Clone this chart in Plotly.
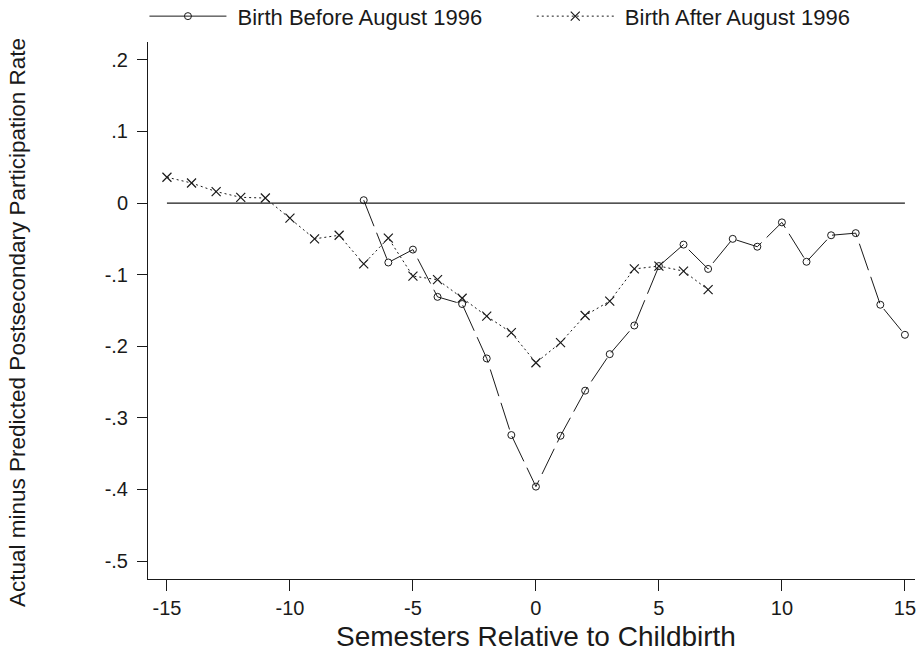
import plotly.graph_objects as go

# Semesters relative to childbirth and participation gaps for each birth cohort
before_x = list(range(-7, 16))
before_y = [0.004, -0.083, -0.065, -0.131, -0.141, -0.217, -0.324, -0.396,
            -0.325, -0.262, -0.211, -0.171, -0.088, -0.058, -0.092, -0.050,
            -0.061, -0.027, -0.082, -0.045, -0.042, -0.142, -0.184]

after_x = list(range(-15, 8))
after_y = [0.036, 0.028, 0.016, 0.008, 0.007, -0.021, -0.050, -0.045,
           -0.085, -0.049, -0.102, -0.107, -0.133, -0.158, -0.181, -0.223,
           -0.195, -0.157, -0.137, -0.092, -0.088, -0.095, -0.121]

ref_x = [-15, 15]
ref_y = [0, 0]

x_ticks = [-15, -10, -5, 0, 5, 10, 15]
x_labels = ["-15", "-10", "-5", "0", "5", "10", "15"]
y_ticks = [0.2, 0.1, 0, -0.1, -0.2, -0.3, -0.4, -0.5]
y_labels = [".2", ".1", "0", "-.1", "-.2", "-.3", "-.4", "-.5"]

INK = "#1a1a1a"
FONT = "Liberation Sans, Arial, sans-serif"
GAP = "\u00a0"

fig = go.Figure()

# zero reference line
fig.add_trace(go.Scatter(x=ref_x, y=ref_y, mode="lines",
                         line=dict(color=INK, width=1.2), showlegend=False,
                         hoverinfo="skip"))

fig.add_trace(go.Scatter(
    x=after_x, y=after_y, mode="lines+markers", showlegend=False,
    line=dict(color=INK, width=1, dash="2px,3px"),
    marker=dict(symbol="x-thin-open", size=9, color=INK,
                line=dict(color=INK, width=1.2))))

fig.add_trace(go.Scatter(
    x=before_x, y=before_y, mode="lines+markers", showlegend=False,
    line=dict(color=INK, width=1, dash="28px,7px"),
    marker=dict(symbol="circle-open", size=7, color=INK,
                line=dict(color=INK, width=1))))

# legend entries (one legend box per cohort, side by side)
fig.add_trace(go.Scatter(
    x=[None], y=[None], mode="lines+markers", legend="legend",
    name=GAP + "Birth Before August 1996",
    line=dict(color=INK, width=1),
    marker=dict(symbol="circle-open", size=7, color=INK,
                line=dict(color=INK, width=1))))
fig.add_trace(go.Scatter(
    x=[None], y=[None], mode="lines+markers", legend="legend2",
    name=GAP + "Birth After August 1996",
    line=dict(color=INK, width=1, dash="2px,3px"),
    marker=dict(symbol="x-thin-open", size=9, color=INK,
                line=dict(color=INK, width=1.2))))

legend_style = dict(orientation="h", xref="container", xanchor="left",
                    yref="container", y=0.975, yanchor="middle",
                    itemwidth=77, font=dict(size=22),
                    bgcolor="rgba(0,0,0,0)")

fig.update_layout(
    width=920, height=653,
    margin=dict(l=148, r=5, t=42, b=74),
    paper_bgcolor="white", plot_bgcolor="white",
    font=dict(family=FONT, size=20, color=INK),
    showlegend=True,
    legend=dict(x=0.157, **legend_style),
    legend2=dict(x=0.578, **legend_style),
    xaxis=dict(range=[-15.77, 15.41], tickmode="array", tickvals=x_ticks,
               ticktext=x_labels,
               ticks="outside", ticklen=11, tickwidth=1, tickcolor=INK,
               showline=True, linecolor=INK, linewidth=1, mirror=False,
               showgrid=False, zeroline=False,
               tickfont=dict(size=20)),
    yaxis=dict(range=[-0.525, 0.2249], tickmode="array", tickvals=y_ticks,
               ticktext=y_labels, ticks="outside", ticklen=10, tickwidth=1,
               tickcolor=INK, showline=True, linecolor=INK, linewidth=1,
               showgrid=False, zeroline=False, ticklabelstandoff=5,
               tickfont=dict(size=20)),
    annotations=[
        dict(text="Semesters Relative to Childbirth", x=0, xref="x",
             y=-0.108, yref="paper", xanchor="center", yanchor="middle",
             showarrow=False, font=dict(size=28)),
        dict(text="Actual minus Predicted Postsecondary Participation Rate",
             x=-0.1695, xref="paper", y=0.4786, yref="paper",
             xanchor="center", yanchor="middle", textangle=-90,
             showarrow=False, font=dict(size=22.5)),
    ],
)

fig.write_html("out.html")
